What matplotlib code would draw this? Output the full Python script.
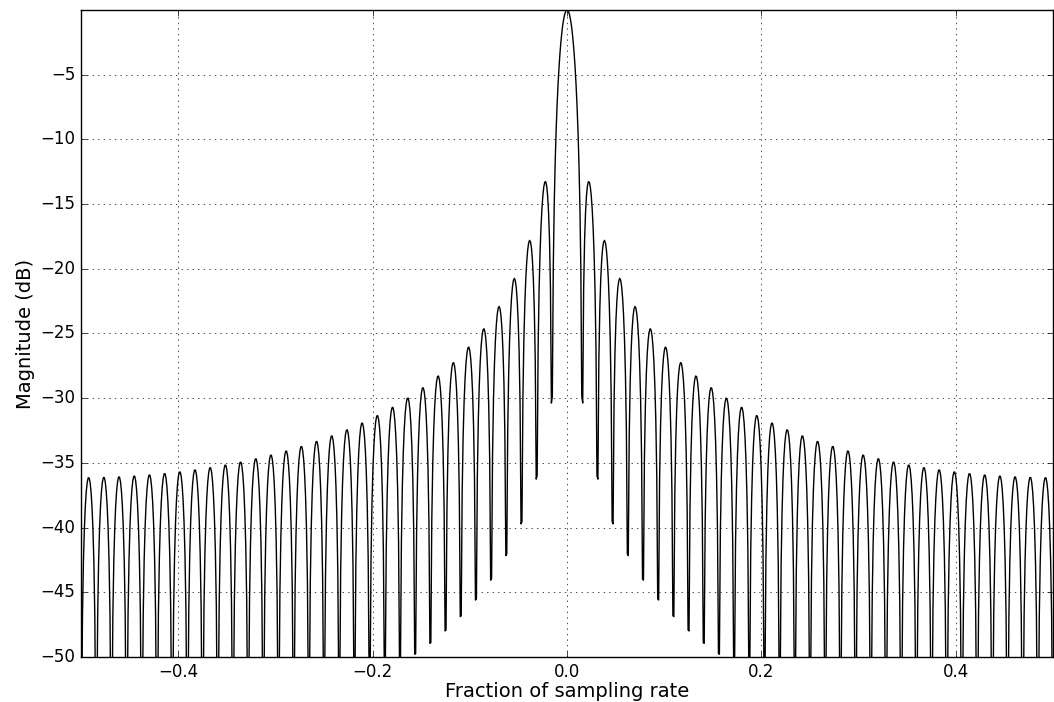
import numpy as np
import matplotlib
matplotlib.use("Agg")
import matplotlib.pyplot as plt

plt.style.use("classic")

# 64-tap rectangular (boxcar) window
window = [1.0] * 64
nfft = 1024

# frequency grid, half-bin offset so zero and the nulls are not sampled exactly
freqs = (np.arange(nfft) + 0.5) / nfft - 0.5
n = np.arange(len(window))
H = np.exp(-2j * np.pi * np.outer(freqs, n)) @ np.array(window)
H_db = 20 * np.log10(np.abs(H) / np.sum(window))

fig = plt.figure(figsize=(10.54, 7.02), dpi=100, facecolor="white")
ax = fig.add_axes([0.0769, 0.0641, 0.9222, 0.9217])
ax.plot(freqs, H_db, color="black", lw=1.0)
ax.set_xlim(-0.5, 0.5)
ax.set_ylim(-50, H_db.max())
ax.set_xticks([-0.4, -0.2, 0.0, 0.2, 0.4])
ax.set_yticks(np.arange(-50, 0, 5))
ax.grid(True)
ax.set_xlabel("Fraction of sampling rate", fontsize=14, labelpad=1)
ax.set_ylabel("Magnitude (dB)", fontsize=14, labelpad=4)

fig.savefig("out.png", dpi=100, facecolor="white")
